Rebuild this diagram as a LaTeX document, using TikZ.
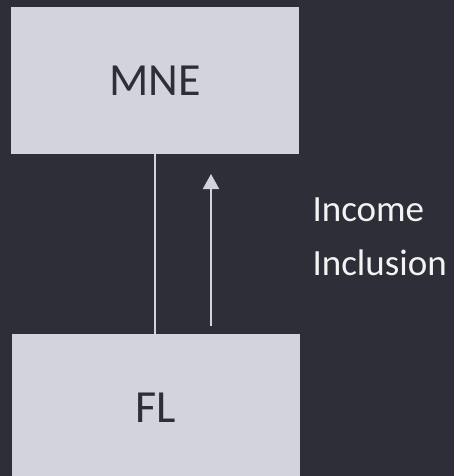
\documentclass[tikz,border=0pt]{standalone}
\usepackage{fontspec}
\setmainfont{Carlito}
\usetikzlibrary{arrows.meta}
\definecolor{slate}{HTML}{2E2E38}
\definecolor{pale}{HTML}{D3D3DD}
\tikzset{entity/.style={fill=pale, text=slate, minimum width=288pt, minimum height=147pt, inner sep=0pt, font=\fontsize{46}{55}\selectfont}}

\begin{document}
\begin{tikzpicture}[x=1pt, y=-1pt]
\fill[slate] (0,0) rectangle (454,476);
\useasboundingbox (0,0) rectangle (454,476);

\node[entity] (mne) at (155,80.5) {MNE};
\node[entity, minimum height=148pt] (fl) at (156,408) {FL};

\draw[pale, line width=2pt] (mne.south) ++(0,0) -- (mne.south |- fl.north);

\coordinate (tail) at (211,326);
\coordinate (tip) at (211,174);
\draw[pale, line width=2pt, -{Triangle[width=16pt,length=15pt]}] (tail) -- (tip);

\node[anchor=west, align=left, text=white!94!slate, font=\fontsize{37}{54}\selectfont] (label) at (309,237) {Income\\Inclusion};
\end{tikzpicture}
\end{document}
